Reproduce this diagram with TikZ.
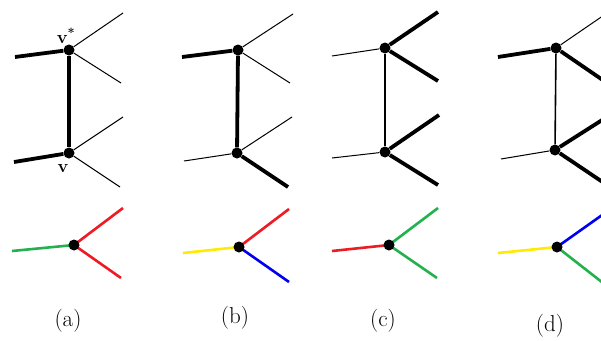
\documentclass[tikz,border=0pt]{standalone}
\begin{document}
\begin{tikzpicture}[x=1pt,y=-1pt,
  vtx/.style={circle,fill=black,inner sep=0pt,minimum size=11pt},
  thk/.style={line width=3.8pt},
  thn/.style={line width=1pt},
  mid/.style={line width=1.6pt},
  col/.style={line width=2.6pt},
  lbl/.style={font=\fontsize{23}{25}\selectfont,inner sep=0pt},
  vlbl/.style={font=\fontsize{18}{20}\selectfont\bfseries,inner sep=0pt}]
\definecolor{pred}{RGB}{237,28,36}
\definecolor{pgreen}{RGB}{34,177,76}
\definecolor{pyellow}{RGB}{255,235,0}
\definecolor{pblue}{RGB}{0,0,240}
\clip (0,0) rectangle (601,340);
\fill[white] (0,0) rectangle (601,340);
% ---------- panel (a)
\node[vtx] (aT) at (69,50) {};
\node[vtx] (aB) at (69,153) {};
\coordinate (aTL) at (15,57); \coordinate (aTR1) at (123,13); \coordinate (aTR2) at (121,83);
\coordinate (aBL) at (14,162); \coordinate (aBR1) at (123,117); \coordinate (aBR2) at (120,187);
\draw[thk] (aTL) -- (aT); \draw[thk] (aT) -- (aB); \draw[thk] (aBL) -- (aB);
\draw[thn] (aT) -- (aTR1); \draw[thn] (aT) -- (aTR2);
\draw[thn] (aB) -- (aBR1); \draw[thn] (aB) -- (aBR2);
\node[vlbl] (vs) at (66,36) {v\textsuperscript{*}};
\node[vlbl] (v) at (63,169) {v};
% ---------- panel (b)
\node[vtx] (bT) at (238,50) {};
\node[vtx] (bB) at (237,153) {};
\coordinate (bTL) at (182,57); \coordinate (bTR1) at (293,14); \coordinate (bTR2) at (290,83);
\coordinate (bBL) at (184,161); \coordinate (bBR1) at (292,117); \coordinate (bBR2) at (288,187);
\draw[thk] (bTL) -- (bT); \draw[thk] (bT) -- (bB); \draw[thn] (bBL) -- (bB);
\draw[thn] (bT) -- (bTR1); \draw[thn] (bT) -- (bTR2);
\draw[thn] (bB) -- (bBR1); \draw[thk] (bB) -- (bBR2);
% ---------- panel (c)
\node[vtx] (cT) at (385,48) {};
\node[vtx] (cB) at (385,152) {};
\coordinate (cTL) at (332,56); \coordinate (cTR1) at (438,12); \coordinate (cTR2) at (438,81);
\coordinate (cBL) at (332,158); \coordinate (cBR1) at (439,115); \coordinate (cBR2) at (438,185);
\draw[thn] (cTL) -- (cT); \draw[mid] (cT) -- (cB); \draw[thn] (cBL) -- (cB);
\draw[thk] (cT) -- (cTR1); \draw[thk] (cT) -- (cTR2);
\draw[thk] (cB) -- (cBR1); \draw[thk] (cB) -- (cBR2);
% ---------- panel (d)
\node[vtx] (dT) at (556,48) {};
\node[vtx] (dB) at (555,150) {};
\coordinate (dTL) at (498,57); \coordinate (dTR1) at (610,11); \coordinate (dTR2) at (610,85);
\coordinate (dBL) at (501,159); \coordinate (dBR1) at (610,115); \coordinate (dBR2) at (610,187);
\draw[thk] (dTL) -- (dT); \draw[mid] (dT) -- (dB); \draw[thn] (dBL) -- (dB);
\draw[thn] (dT) -- (dTR1); \draw[thk] (dT) -- (dTR2);
\draw[thk] (dB) -- (dBR1); \draw[thk] (dB) -- (dBR2);
% ---------- coloured row
\coordinate (eL) at (12,251); \coordinate (eR1) at (123,208); \coordinate (eR2) at (121,278);
\draw[col,pgreen] (eL) -- (74,245); \draw[col,pred] (74,245) -- (eR1); \draw[col,pred] (74,245) -- (eR2);
\node[vtx] (eV) at (74,245) {};
\coordinate (fL) at (183,253); \coordinate (fR1) at (289,209); \coordinate (fR2) at (289,282);
\draw[col,pyellow] (fL) -- (239,247); \draw[col,pred] (239,247) -- (fR1); \draw[col,pblue] (239,247) -- (fR2);
\node[vtx] (fV) at (239,247) {};
\coordinate (gL) at (332,251); \coordinate (gR1) at (438,208); \coordinate (gR2) at (437,278);
\draw[col,pred] (gL) -- (389,245); \draw[col,pgreen] (389,245) -- (gR1); \draw[col,pgreen] (389,245) -- (gR2);
\node[vtx] (gV) at (389,245) {};
\coordinate (hL) at (498,253); \coordinate (hR1) at (612,208); \coordinate (hR2) at (612,290);
\draw[col,pyellow] (hL) -- (557,247); \draw[col,pblue] (557,247) -- (hR1); \draw[col,pgreen] (557,247) -- (hR2);
\node[vtx] (hV) at (557,247) {};
% ---------- captions
\node[lbl] (la) at (68,321) {(a)};
\node[lbl] (lb) at (235,318) {(b)};
\node[lbl] (lc) at (383,321) {(c)};
\node[lbl] (ld) at (550,326) {(d)};
\end{tikzpicture}
\end{document}
